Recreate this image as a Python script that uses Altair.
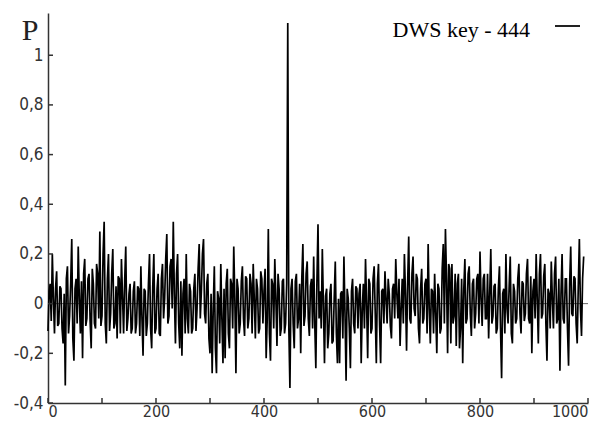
import altair as alt
import pandas as pd

# P values, one every 2 samples
STEP = 2
p_0_198 = [-0.11, 0.05, 0.08, -0.07, 0.20, 0.02, -0.12, 0.06, 0.13, -0.09,
           -0.08, 0.07, 0.06, -0.10, -0.16, 0.04, -0.33, 0.10, 0.15, -0.12,
           -0.05, 0.08, 0.26, -0.14, -0.23, 0.06, 0.10, -0.08, 0.23, 0.02,
           -0.12, 0.09, -0.22, 0.12, 0.18, -0.09, -0.06, 0.10, 0.12, -0.07,
           -0.18, 0.14, 0.08, -0.08, -0.10, 0.16, 0.12, -0.06, 0.29, -0.09,
           -0.05, 0.20, 0.33, -0.08, -0.16, 0.10, 0.20, -0.11, -0.04, 0.12,
           0.22, -0.10, -0.08, 0.07, -0.14, 0.11, 0.10, -0.12, 0.18, 0.03,
           -0.12, 0.09, 0.23, -0.11, -0.06, 0.04, 0.08, -0.12, -0.10, 0.05,
           0.09, -0.12, -0.08, 0.07, 0.06, -0.13, 0.15, -0.06, -0.21, 0.06,
           0.05, -0.13, -0.08, 0.08, 0.20, -0.10, -0.18, 0.07, 0.20, -0.12]
p_200_398 = [-0.10, 0.06, 0.12, -0.12, -0.13, 0.10, 0.16, -0.06, 0.02, 0.18,
             0.28, -0.08, -0.05, 0.15, 0.18, -0.02, 0.33, 0.04, -0.16, 0.12,
             0.20, -0.08, -0.18, 0.09, -0.21, 0.04, 0.10, -0.12, 0.20, -0.06,
             -0.12, 0.08, 0.05, -0.12, -0.10, 0.06, 0.12, -0.11, -0.02, 0.14,
             0.24, -0.06, 0.05, 0.20, 0.26, -0.04, -0.08, 0.08, 0.12, -0.14,
             -0.20, 0.04, -0.28, -0.02, 0.15, -0.18, -0.28, 0.05, 0.02, -0.16,
             0.16, -0.06, -0.24, 0.06, -0.22, 0.08, 0.14, -0.12, -0.18, 0.10,
             0.08, -0.10, 0.23, 0.02, -0.28, 0.10, 0.06, -0.12, -0.08, 0.09,
             0.15, -0.06, -0.13, 0.11, 0.10, -0.10, -0.06, 0.12, 0.08, -0.12,
             0.16, 0.02, -0.14, 0.10, 0.06, -0.12, -0.10, 0.13, 0.10, -0.08]
p_400_598 = [0.05, 0.14, -0.22, -0.06, 0.30, -0.12, -0.23, 0.10, 0.08, -0.10,
             0.18, 0.02, -0.17, 0.12, 0.06, -0.13, -0.10, 0.09, 0.10, -0.12,
             -0.08, 0.08, 1.13, -0.10, -0.34, 0.06, 0.10, -0.08, -0.18, 0.09,
             0.12, -0.10, -0.06, 0.08, -0.20, 0.10, 0.24, -0.09, -0.05, 0.12,
             0.17, -0.06, -0.13, 0.07, 0.10, -0.10, 0.19, -0.08, -0.26, 0.09,
             0.32, -0.06, 0.05, -0.10, 0.22, 0.00, -0.24, 0.03, 0.06, -0.18,
             -0.12, 0.04, 0.08, -0.16, -0.15, 0.02, 0.17, -0.12, -0.24, 0.02,
             -0.24, 0.04, 0.05, -0.14, 0.19, -0.04, -0.31, 0.06, 0.02, -0.10,
             -0.26, 0.05, 0.10, -0.08, -0.12, 0.07, 0.06, -0.10, 0.04, 0.08,
             -0.24, -0.02, 0.08, -0.10, 0.18, 0.00, -0.22, 0.10, 0.08, -0.12]
p_600_798 = [-0.10, 0.10, 0.15, -0.04, -0.24, 0.08, 0.16, -0.08, -0.24, 0.05,
             0.06, -0.08, 0.13, 0.02, -0.08, 0.10, 0.04, -0.09, -0.14, 0.06,
             0.08, -0.06, 0.18, 0.04, -0.06, 0.10, -0.17, -0.02, 0.10, -0.08,
             0.20, 0.04, -0.19, 0.08, 0.27, -0.06, -0.08, 0.12, 0.19, -0.02,
             -0.05, 0.12, 0.10, -0.10, -0.16, 0.06, 0.14, -0.08, -0.06, 0.08,
             0.10, -0.12, 0.24, -0.02, -0.16, 0.06, 0.05, -0.12, 0.12, -0.04,
             -0.20, 0.08, 0.06, -0.12, -0.10, 0.14, 0.24, -0.08, 0.30, 0.10,
             -0.20, 0.16, 0.14, -0.16, 0.16, -0.08, -0.05, 0.12, -0.17, 0.08,
             0.12, -0.18, -0.10, 0.10, -0.24, 0.06, 0.18, -0.08, -0.06, 0.12,
             0.15, -0.04, -0.13, 0.08, 0.10, -0.10, -0.04, 0.10, 0.12, -0.08]
p_800_992 = [0.21, 0.02, -0.09, 0.10, 0.12, -0.06, -0.06, 0.12, -0.14, 0.04,
             0.22, -0.08, -0.05, 0.07, 0.08, -0.12, -0.10, 0.06, 0.15, -0.10,
             -0.30, 0.04, 0.06, -0.12, 0.20, -0.02, -0.08, 0.07, 0.19, -0.12,
             -0.16, 0.08, 0.05, -0.08, -0.06, 0.10, 0.16, -0.04, -0.12, 0.09,
             0.08, -0.07, -0.04, 0.12, 0.18, -0.06, -0.08, 0.11, -0.20, 0.05,
             0.10, -0.06, 0.20, 0.02, -0.16, 0.12, 0.20, -0.06, -0.04, 0.11,
             0.16, -0.08, -0.23, 0.06, 0.04, -0.10, 0.17, 0.02, -0.10, 0.12,
             0.19, -0.08, -0.06, 0.10, -0.27, 0.04, 0.20, -0.06, -0.08, 0.10,
             0.10, -0.10, -0.25, 0.08, 0.23, -0.04, -0.05, 0.11, 0.10, -0.08,
             -0.16, 0.07, 0.26, -0.02, -0.13, 0.10, 0.19]

x_tick_values = [0, 100, 200, 300, 400, 500, 600, 700, 800, 900, 1000]
x_label_values = [0, 200, 400, 600, 800, 1000]
y_tick_values = [-0.4, -0.2, 0, 0.2, 0.4, 0.6, 0.8, 1.0]
legend_text = "DWS key - 444"
y_title = "P"

values = p_0_198 + p_200_398 + p_400_598 + p_600_798 + p_800_992
df = pd.DataFrame({"x": [i * STEP for i in range(len(values))], "p": values})

W, H = 540, 390
xs = alt.Scale(domain=[0, 1000], nice=False, zero=False)
ys = alt.Scale(domain=[-0.4, 1.17], nice=False, zero=False)

label_font = "Liberation Sans Narrow, DejaVu Sans Condensed, Arial Narrow, sans-serif"

x_axis = alt.Axis(values=x_label_values, ticks=False, grid=False, title=None,
                  labelFont=label_font, labelFontSize=16, labelColor="#333",
                  labelPadding=0, domainColor="#333", domainWidth=1.5,
                  labelExpr="format(datum.value, 'd')")
y_axis = alt.Axis(values=y_tick_values, ticks=False, grid=False, title=None,
                  labelFont=label_font, labelFontSize=17, labelColor="#333",
                  labelPadding=5, domainColor="#333", domainWidth=1.5,
                  labelExpr="replace(replace(format(datum.value, '.1~f'), '.', ','), '\u2212', '-')")

zero_line = alt.Chart(pd.DataFrame({"v": [0]})).mark_rule(
    color="#666", strokeWidth=1).encode(y=alt.Y("v:Q", scale=ys, axis=y_axis))

line = alt.Chart(df).mark_line(color="#000", strokeWidth=1.7).encode(
    x=alt.X("x:Q", scale=xs, axis=x_axis),
    y=alt.Y("p:Q", scale=ys, axis=y_axis),
)

y_ticks = alt.Chart(pd.DataFrame({"v": y_tick_values})).mark_rule(
    color="#333", strokeWidth=1.5).encode(
    y=alt.Y("v:Q", scale=ys, axis=y_axis), x=alt.value(0), x2=alt.value(5))

x_ticks = alt.Chart(pd.DataFrame({"v": x_tick_values})).mark_rule(
    color="#333", strokeWidth=1.5).encode(
    x=alt.X("v:Q", scale=xs, axis=x_axis), y=alt.value(H), y2=alt.value(H - 5))

p_label = alt.Chart(pd.DataFrame({"t": [y_title]})).mark_text(
    font="Liberation Serif, DejaVu Serif, serif",
    fontSize=30, align="center", baseline="alphabetic",
    color="#222").encode(text="t:N", x=alt.value(-18), y=alt.value(27))

legend_label = alt.Chart(pd.DataFrame({"t": [legend_text]})).mark_text(
    font="Liberation Serif", fontSize=22, align="right", baseline="alphabetic",
    color="#000").encode(text="t:N", x=alt.value(482), y=alt.value(24))

legend_dash = alt.Chart(pd.DataFrame({"t": [legend_text]})).mark_rule(
    color="#222", strokeWidth=2).encode(
    x=alt.value(507), x2=alt.value(532), y=alt.value(13))

chart = alt.layer(zero_line, line, y_ticks, x_ticks, p_label, legend_label, legend_dash).properties(
    width=W, height=H,
    padding={"left": 40, "top": 5, "right": 15, "bottom": 20},
    autosize=alt.AutoSizeParams(type="none"),
    background="white",
).configure_view(stroke=None)

chart.save("out.html", embed_options={"renderer": "svg", "actions": False})
